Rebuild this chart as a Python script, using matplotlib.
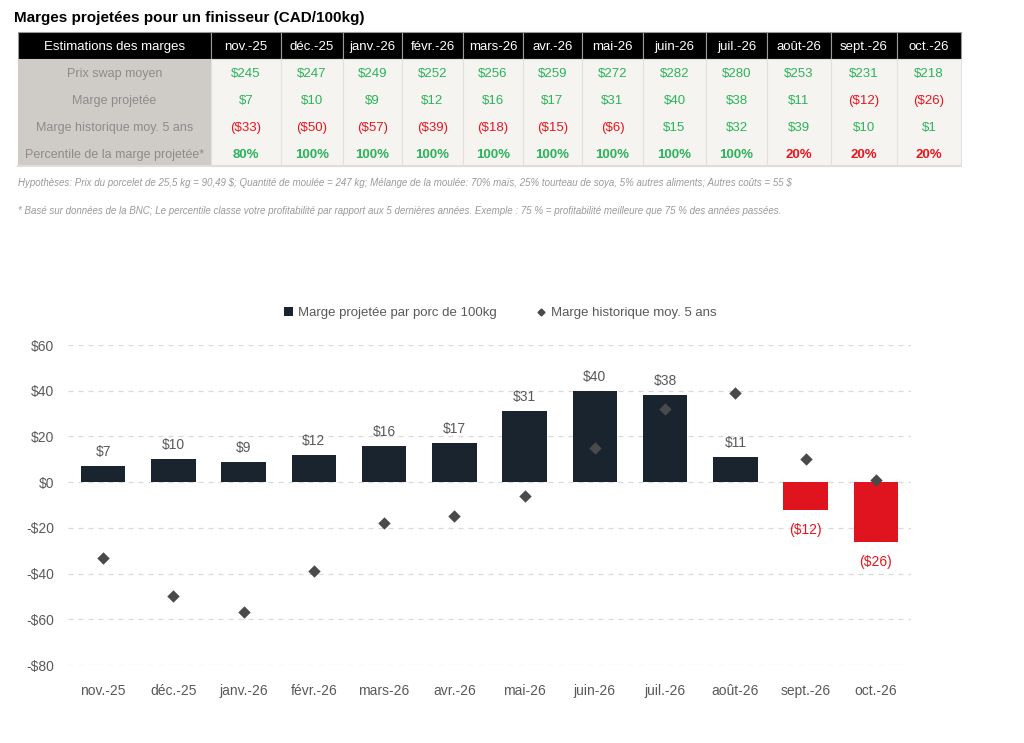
import matplotlib
matplotlib.use("Agg")
import matplotlib.pyplot as plt
from matplotlib.patches import Rectangle, Patch
from matplotlib.lines import Line2D
from matplotlib import font_manager

# ---------------- data ----------------
months = ["nov.-25", "déc.-25", "janv.-26", "févr.-26", "mars-26", "avr.-26",
          "mai-26", "juin-26", "juil.-26", "août-26", "sept.-26", "oct.-26"]
swap_price = [245, 247, 249, 252, 256, 259, 272, 282, 280, 253, 231, 218]
proj_margin = [7, 10, 9, 12, 16, 17, 31, 40, 38, 11, -12, -26]
hist_margin = [-33, -50, -57, -39, -18, -15, -6, 15, 32, 39, 10, 1]
percentile = [80, 100, 100, 100, 100, 100, 100, 100, 100, 20, 20, 20]
row_labels = ["Prix swap moyen", "Marge projetée", "Marge historique moy. 5 ans",
              "Percentile de la marge projetée*"]
header_first = "Estimations des marges"
y_ticks = [60, 40, 20, 0, -20, -40, -60, -80]
title = "Marges projetées pour un finisseur (CAD/100kg)"
note1 = ("Hypothèses: Prix du porcelet de 25,5 kg = 90,49 $; Quantité de moulée = 247 kg; "
         "Mélange de la moulée: 70% maïs, 25% tourteau de soya, 5% autres aliments; Autres coûts = 55 $")
note2 = ("* Basé sur données de la BNC; Le percentile classe votre profitabilité par rapport aux "
         "5 dernières années. Exemple : 75 % = profitabilité meilleure que 75 % des années passées.")
legend_bar = "Marge projetée par porc de 100kg"
legend_pt = "Marge historique moy. 5 ans"

# ---------------- style ----------------
plt.rcParams['text.parse_math'] = False
names = {f.name for f in font_manager.fontManager.ttflist}
narrow = "Liberation Sans Narrow" if "Liberation Sans Narrow" in names else "Liberation Sans"
FAM = [narrow, "DejaVu Sans"]
plt.rcParams['font.family'] = FAM

GREEN = "#2bb35a"
RED = "#e8141e"
NAVY = "#19242f"
BARRED = "#e0141e"
GRAY = "#595959"
LGRAY = "#8c8c8c"

W, H = 1024, 743
fig = plt.figure(figsize=(W / 100, H / 100), dpi=100)

def fx(px):
    return px / W

def fy(py):
    return 1 - py / H

def money(v):
    return f"(${abs(v)})" if v < 0 else f"${v}"

# title
fig.text(fx(14), fy(18), title, fontsize=11, fontweight="bold",
         family=["Liberation Sans", "DejaVu Sans"], va="center", ha="left", color="black")

# ---------------- table ----------------
col_edges = [18, 211, 281, 343, 402, 463, 523, 582, 643, 706, 767, 831, 897, 961]
head_top, head_bot, body_bot = 32, 59, 166
row_h = (body_bot - head_bot) / 4

tax = fig.add_axes([0, 0, 1, 1])
tax.set_xlim(0, W)
tax.set_ylim(H, 0)
tax.axis("off")

# header
for i in range(len(col_edges) - 1):
    x0, x1 = col_edges[i], col_edges[i + 1]
    tax.add_patch(Rectangle((x0, head_top), x1 - x0, head_bot - head_top,
                            facecolor="black", edgecolor="#9a9a9a", lw=0.8))
    txt = header_first if i == 0 else months[i - 1]
    tax.text((x0 + x1) / 2, (head_top + head_bot) / 2 + 1.5, txt, color="white",
             fontsize=9.5, ha="center", va="center")
# body background
tax.add_patch(Rectangle((col_edges[0], head_bot), col_edges[1] - col_edges[0],
                        body_bot - head_bot, facecolor="#cfccc8", edgecolor="none"))
for i in range(1, len(col_edges) - 1):
    x0, x1 = col_edges[i], col_edges[i + 1]
    tax.add_patch(Rectangle((x0, head_bot), x1 - x0, body_bot - head_bot,
                            facecolor="#f6f4f1", edgecolor="#e3e1de", lw=0.8))
tax.plot([col_edges[0], col_edges[-1]], [body_bot, body_bot], color="#e0dedb", lw=1.5)

rows = [
    ([money(v) for v in swap_price], [GREEN if v >= 0 else RED for v in swap_price], "normal"),
    ([money(v) for v in proj_margin], [GREEN if v >= 0 else RED for v in proj_margin], "normal"),
    ([money(v) for v in hist_margin], [GREEN if v >= 0 else RED for v in hist_margin], "normal"),
    ([f"{v}%" for v in percentile], [GREEN if v >= 50 else RED for v in percentile], "bold"),
]
for r, (texts, colors, wt) in enumerate(rows):
    yc = head_bot + row_h * (r + 0.5) + 2
    tax.text((col_edges[0] + col_edges[1]) / 2, yc, row_labels[r], color=LGRAY,
             fontsize=9, ha="center", va="center")
    for i in range(len(months)):
        xc = (col_edges[i + 1] + col_edges[i + 2]) / 2
        tax.text(xc, yc, texts[i], color=colors[i], fontsize=9.5, ha="center",
                 va="center", fontweight=wt)

# notes
tax.text(18, 183, note1, color="#9a9a9a", fontsize=7, style="italic", ha="left", va="center")
tax.text(18, 211, note2, color="#9a9a9a", fontsize=7, style="italic", ha="left", va="center")

# ---------------- chart ----------------
ax = fig.add_axes([fx(68), fy(665), fx(911) - fx(68), fy(345) - fy(665)])
x = list(range(len(months)))
bar_colors = [NAVY if v >= 0 else BARRED for v in proj_margin]
bars = ax.bar(x, proj_margin, width=0.63, color=bar_colors, zorder=2)
ax.scatter(x, hist_margin, marker="D", s=40, color="#4a4a4a", zorder=3, linewidths=0)

for xi, v in zip(x, proj_margin):
    if v >= 0:
        ax.annotate(money(v), (xi, v), xytext=(0, 5), textcoords="offset points",
                    ha="center", va="bottom", fontsize=10, color=GRAY)
    else:
        ax.annotate(money(v), (xi, v), xytext=(0, -10), textcoords="offset points",
                    ha="center", va="top", fontsize=10, color=RED)

ax.set_xlim(-0.5, len(months) - 0.5)
ax.set_ylim(-80, 60)
ax.set_yticks(y_ticks)
ax.set_yticklabels([f"-${abs(t)}" if t < 0 else f"${t}" for t in y_ticks])
ax.set_xticks(x)
ax.set_xticklabels(months)
ax.tick_params(axis="both", length=0, labelsize=10, colors=GRAY)
ax.tick_params(axis="x", pad=14)
ax.tick_params(axis="y", pad=10)
for s in ax.spines.values():
    s.set_visible(False)
ax.yaxis.grid(True, color="#d9d9d9", linestyle=(0, (4, 4)), lw=0.9, zorder=0)
ax.set_axisbelow(True)
ax.patch.set_alpha(0)

handles = [Patch(facecolor=NAVY, edgecolor="none"),
           Line2D([], [], marker="D", color="#4a4a4a", lw=0, markersize=3.5)]
fig.legend(handles, [legend_bar, legend_pt], loc="center", ncol=2,
           bbox_to_anchor=(fx(500), fy(313)), frameon=False, fontsize=9.5,
           labelcolor=GRAY, handlelength=0.7, handleheight=0.7, handletextpad=0.4,
           columnspacing=3.0)

fig.savefig("out.png", dpi=100)
